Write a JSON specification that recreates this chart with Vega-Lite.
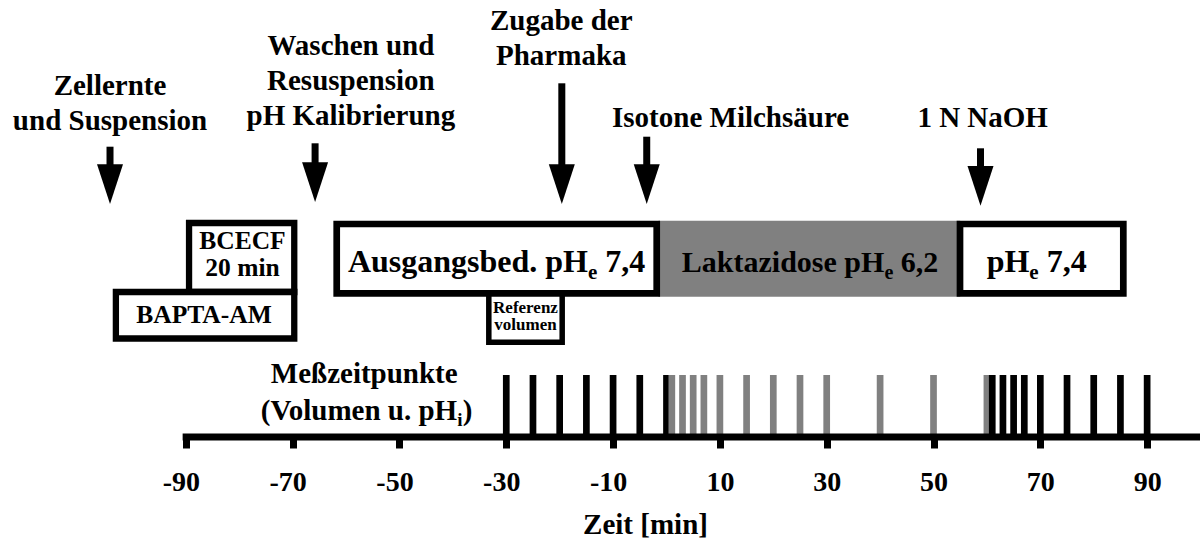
{
  "$schema": "https://vega.github.io/schema/vega-lite/v6.json",
  "width": 1200,
  "height": 437,
  "autosize": {"type": "none"},
  "padding": {"left": 0, "top": 0, "right": 0, "bottom": 105},
  "background": "white",
  "config": {
    "view": {"stroke": null},
    "font": "Liberation Serif",
    "text": {"font": "Liberation Serif", "fontWeight": "bold", "color": "#000000"}
  },
  "datasets": {
    "messpunkte": [
      {"x": -30, "y": 0, "y2": 62, "phase": "Kontrolle"}, {"x": -25, "y": 0, "y2": 62, "phase": "Kontrolle"},
      {"x": -20, "y": 0, "y2": 62, "phase": "Kontrolle"}, {"x": -15, "y": 0, "y2": 62, "phase": "Kontrolle"},
      {"x": -10, "y": 0, "y2": 62, "phase": "Kontrolle"}, {"x": -5, "y": 0, "y2": 62, "phase": "Kontrolle"},
      {"x": 0, "y": 0, "y2": 62, "phase": "Kontrolle"},
      {"x": 1, "y": 0, "y2": 62, "phase": "Laktazidose"}, {"x": 3, "y": 0, "y2": 62, "phase": "Laktazidose"},
      {"x": 5, "y": 0, "y2": 62, "phase": "Laktazidose"}, {"x": 7, "y": 0, "y2": 62, "phase": "Laktazidose"},
      {"x": 10, "y": 0, "y2": 62, "phase": "Laktazidose"}, {"x": 15, "y": 0, "y2": 62, "phase": "Laktazidose"},
      {"x": 20, "y": 0, "y2": 62, "phase": "Laktazidose"}, {"x": 25, "y": 0, "y2": 62, "phase": "Laktazidose"},
      {"x": 30, "y": 0, "y2": 62, "phase": "Laktazidose"}, {"x": 40, "y": 0, "y2": 62, "phase": "Laktazidose"},
      {"x": 50, "y": 0, "y2": 62, "phase": "Laktazidose"}, {"x": 60, "y": 0, "y2": 62, "phase": "Laktazidose"},
      {"x": 61, "y": 0, "y2": 62, "phase": "Kontrolle"}, {"x": 63, "y": 0, "y2": 62, "phase": "Kontrolle"},
      {"x": 65, "y": 0, "y2": 62, "phase": "Kontrolle"}, {"x": 67, "y": 0, "y2": 62, "phase": "Kontrolle"},
      {"x": 70, "y": 0, "y2": 62, "phase": "Kontrolle"}, {"x": 75, "y": 0, "y2": 62, "phase": "Kontrolle"},
      {"x": 80, "y": 0, "y2": 62, "phase": "Kontrolle"}, {"x": 85, "y": 0, "y2": 62, "phase": "Kontrolle"},
      {"x": 90, "y": 0, "y2": 62, "phase": "Kontrolle"}
    ],
    "laktat": [{"x": -1.5, "x2": 55, "y": 140.3, "y2": 216.3}],
    "referenz": [{"x": -33.27, "x2": -19.53, "y": 94.8, "y2": 144}],
    "hauptkasten": [
      {"name": "Ausgangsbedingung", "x": -61.75, "x2": -1.83, "y": 143.6, "y2": 213},
      {"name": "Erholung", "x": 54.96, "x2": 85.54, "y": 143.6, "y2": 213}
    ],
    "beladung": [
      {"name": "BCECF", "x": -89.4, "x2": -69.7, "y": 145, "y2": 214},
      {"name": "BAPTA-AM", "x": -103.1, "x2": -69.7, "y": 98.5, "y2": 145}
    ],
    "achse": [{"x": -90.6, "x2": 100, "y": 0}],
    "pfeile": [
      {"name": "Zellernte", "x": -104.2, "top": 290.3, "base": 272},
      {"name": "Waschen", "x": -65.8, "top": 293.7, "base": 274},
      {"name": "Zugabe", "x": -19.6, "top": 353.7, "base": 272},
      {"name": "Isotone", "x": -3.7, "top": 300.3, "base": 272},
      {"name": "NaOH", "x": 58.8, "top": 288.7, "base": 270.3}
    ],
    "beschriftung": [
      {"x": -104.2, "y": 342, "text": ["Zellernte", "und Suspension"]},
      {"x": -59.1, "y": 382, "text": ["Waschen und", "Resuspension", "pH Kalibrierung"]},
      {"x": -19.7, "y": 407, "text": ["Zugabe der", "Pharmaka"]},
      {"x": 12, "y": 310, "text": "Isotone Milchsäure"},
      {"x": 59.2, "y": 310, "text": "1 N NaOH"},
      {"x": -56.6, "y": 53.7, "text": "Meßzeitpunkte"}
    ],
    "kastentext_weiss": [
      {"x": -14.7, "y": 165, "pre": "Ausgangsbed. pH", "sub": "e", "post": "7,4"},
      {"x": 67.95, "y": 165, "pre": "pH", "sub": "e", "post": "7,4"}
    ],
    "kastentext_grau": [
      {"x": 40.8, "y": 165, "pre": "Laktazidose pH", "sub": "e", "post": "6,2"}
    ],
    "messtext": [
      {"x": -39.2, "y": 17, "pre": "(Volumen u. pH", "sub": "i", "post": ")"}
    ],
    "beladungstext": [
      {"x": -79.4, "y": 187.7, "text": ["BCECF", "20 min"]},
      {"x": -86.6, "y": 113.7, "text": "BAPTA-AM"}
    ],
    "referenztext": [
      {"x": -26.4, "y": 123.7, "text": ["Referenz", "volumen"]}
    ]
  },
  "encoding": {
    "x": {
      "field": "x", "type": "quantitative",
      "scale": {"domain": [-124.8, 99.9], "nice": false, "zero": false},
      "axis": {
        "values": [-90, -70, -50, -30, -10, 10, 30, 50, 70, 90],
        "domain": false, "grid": false,
        "tickSize": 11, "tickWidth": 7, "tickColor": "#000000",
        "labelFont": "Liberation Serif", "labelFontSize": 28, "labelFontWeight": "bold",
        "labelColor": "#000000", "labelPadding": 20, "labelOverlap": false, "labelFlush": false,
        "labelOffset": {"condition": {"test": "datum.value < 0", "value": -5}, "value": 0},
        "labelExpr": "'' + datum.value",
        "title": "Zeit [min]",
        "titleFont": "Liberation Serif", "titleFontSize": 29, "titleFontWeight": "bold",
        "titleColor": "#000000", "titleX": 645, "titleY": 96,
        "titleBaseline": "alphabetic", "titleAlign": "center"
      }
    },
    "y": {"field": "y", "type": "quantitative", "scale": {"domain": [0, 437], "nice": false, "zero": false}, "axis": null}
  },
  "layer": [
    {
      "data": {"name": "laktat"},
      "mark": {"type": "rect", "fill": "#808080", "strokeWidth": 0},
      "encoding": {"x2": {"field": "x2"}, "y2": {"field": "y2"}}
    },
    {
      "data": {"name": "referenz"},
      "mark": {"type": "rect", "fill": "#ffffff", "stroke": "#000000", "strokeWidth": 5.5},
      "encoding": {"x2": {"field": "x2"}, "y2": {"field": "y2"}}
    },
    {
      "data": {"name": "hauptkasten"},
      "mark": {"type": "rect", "fill": "#ffffff", "stroke": "#000000", "strokeWidth": 6.7},
      "encoding": {"x2": {"field": "x2"}, "y2": {"field": "y2"}}
    },
    {
      "data": {"name": "beladung"},
      "mark": {"type": "rect", "fill": "#ffffff", "stroke": "#000000", "strokeWidth": 6.3},
      "encoding": {"x2": {"field": "x2"}, "y2": {"field": "y2"}}
    },
    {
      "data": {"name": "messpunkte"},
      "mark": {"type": "rule", "strokeWidth": 6.7},
      "encoding": {
        "y2": {"field": "y2"},
        "color": {
          "field": "phase", "type": "nominal",
          "scale": {"domain": ["Kontrolle", "Laktazidose"], "range": ["#000000", "#808080"]},
          "legend": null
        }
      }
    },
    {
      "data": {"name": "achse"},
      "mark": {"type": "rule", "strokeWidth": 7, "color": "#000000"},
      "encoding": {"x2": {"field": "x2"}}
    },
    {
      "data": {"name": "pfeile"},
      "mark": {"type": "rule", "strokeWidth": 7, "color": "#000000"},
      "encoding": {
        "y": {"field": "top", "type": "quantitative", "scale": {"domain": [0, 437], "nice": false, "zero": false}, "axis": null},
        "y2": {"field": "base"}
      }
    },
    {
      "data": {"name": "pfeile"},
      "mark": {"type": "point", "shape": "M-1,-0.05L1,-0.05L0,3Z", "size": 676, "filled": true, "color": "#000000", "opacity": 1, "strokeWidth": 0},
      "encoding": {
        "y": {"field": "base", "type": "quantitative", "scale": {"domain": [0, 437], "nice": false, "zero": false}, "axis": null}
      }
    },
    {
      "data": {"name": "beschriftung"},
      "mark": {"type": "text", "align": "center", "baseline": "alphabetic", "fontSize": 29, "lineHeight": 35},
      "encoding": {"text": {"field": "text"}}
    },
    {
      "data": {"name": "kastentext_weiss"},
      "mark": {"type": "text", "align": "right", "baseline": "alphabetic", "fontSize": 32},
      "encoding": {"text": {"field": "pre"}}
    },
    {
      "data": {"name": "kastentext_weiss"},
      "mark": {"type": "text", "align": "left", "baseline": "alphabetic", "fontSize": 21, "dy": 7},
      "encoding": {"text": {"field": "sub"}}
    },
    {
      "data": {"name": "kastentext_weiss"},
      "mark": {"type": "text", "align": "left", "baseline": "alphabetic", "fontSize": 32, "dx": 17.3},
      "encoding": {"text": {"field": "post"}}
    },
    {
      "data": {"name": "kastentext_grau"},
      "mark": {"type": "text", "align": "right", "baseline": "alphabetic", "fontSize": 30},
      "encoding": {"text": {"field": "pre"}}
    },
    {
      "data": {"name": "kastentext_grau"},
      "mark": {"type": "text", "align": "left", "baseline": "alphabetic", "fontSize": 20, "dy": 7},
      "encoding": {"text": {"field": "sub"}}
    },
    {
      "data": {"name": "kastentext_grau"},
      "mark": {"type": "text", "align": "left", "baseline": "alphabetic", "fontSize": 30, "dx": 16.4},
      "encoding": {"text": {"field": "post"}}
    },
    {
      "data": {"name": "messtext"},
      "mark": {"type": "text", "align": "right", "baseline": "alphabetic", "fontSize": 29},
      "encoding": {"text": {"field": "pre"}}
    },
    {
      "data": {"name": "messtext"},
      "mark": {"type": "text", "align": "left", "baseline": "alphabetic", "fontSize": 19, "dy": 6},
      "encoding": {"text": {"field": "sub"}}
    },
    {
      "data": {"name": "messtext"},
      "mark": {"type": "text", "align": "left", "baseline": "alphabetic", "fontSize": 29, "dx": 5.5},
      "encoding": {"text": {"field": "post"}}
    },
    {
      "data": {"name": "beladungstext"},
      "mark": {"type": "text", "align": "center", "baseline": "alphabetic", "fontSize": 25.5, "lineHeight": 27},
      "encoding": {"text": {"field": "text"}}
    },
    {
      "data": {"name": "referenztext"},
      "mark": {"type": "text", "align": "center", "baseline": "alphabetic", "fontSize": 17, "lineHeight": 17},
      "encoding": {"text": {"field": "text"}}
    }
  ]
}
